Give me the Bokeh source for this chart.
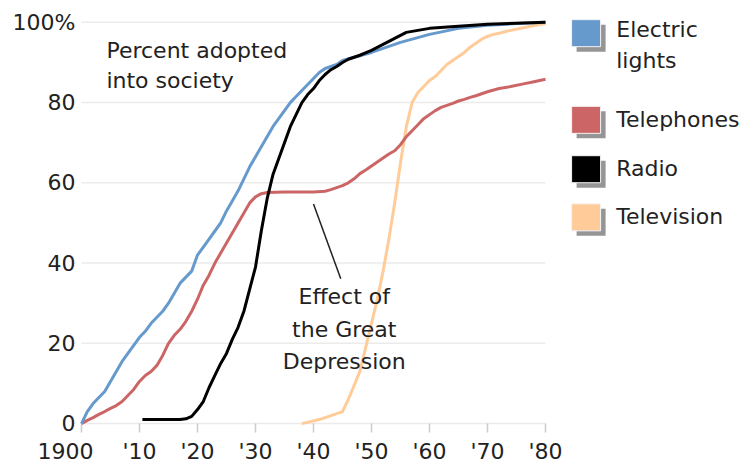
from bokeh.plotting import figure
from bokeh.models import Range1d, FixedTicker, Label
from bokeh.embed import file_html
from bokeh.resources import INLINE

# ---------------- data ----------------
light_years = [1900, 1901, 1902, 1903, 1904, 1905, 1906, 1907, 1908, 1909,
               1910, 1911, 1912, 1913, 1914, 1915, 1916, 1917, 1918, 1919,
               1920, 1921, 1922, 1923, 1924, 1925, 1926, 1927, 1928, 1929,
               1930, 1931, 1932, 1933, 1934, 1935, 1936, 1937, 1938, 1939,
               1940, 1941, 1942, 1943, 1944, 1945, 1950, 1955, 1960, 1965,
               1970, 1975, 1980]
light_pct = [0, 3, 5, 6.5, 8, 10.5, 13, 15.5, 17.5, 19.5,
             21.5, 23, 25, 26.5, 28, 30, 32.5, 35, 36.5, 38,
             42, 44, 46, 48, 50, 53, 55.5, 58, 61, 64,
             66.5, 69, 71.5, 74, 76, 78, 80, 81.5, 83, 84.5,
             86, 87.5, 88.5, 89, 89.5, 90.5, 92.5, 95, 97, 98.5,
             99.3, 99.7, 100]

phone_years = [1900, 1901, 1902, 1903, 1904, 1905, 1906, 1907, 1908, 1909,
               1910, 1911, 1912, 1913, 1914, 1915, 1916, 1917, 1918, 1919,
               1920, 1921, 1922, 1923, 1924, 1925, 1926, 1927, 1928, 1929,
               1930, 1931, 1932, 1935, 1940, 1942, 1943, 1944, 1945, 1946,
               1947, 1948, 1949, 1950, 1951, 1952, 1953, 1954, 1955, 1956,
               1957, 1958, 1959, 1960, 1961, 1962, 1963, 1964, 1965, 1966,
               1967, 1968, 1969, 1970, 1972, 1974, 1976, 1978, 1980]
phone_pct = [0, 0.8, 1.5, 2.3, 3, 3.8, 4.5, 5.5, 7, 8.5,
             10.5, 12, 13, 14.5, 17, 20, 22, 23.5, 25.5, 28,
             31, 34.5, 37, 40, 42.5, 45, 47.5, 50, 52.5, 55,
             56.5, 57.3, 57.6, 57.7, 57.7, 57.9, 58.3, 58.8, 59.3, 60,
             61, 62.3, 63.2, 64.2, 65.2, 66.2, 67.2, 68, 69.5, 71.5,
             73, 74.5, 76, 77, 78, 78.8, 79.3, 79.8, 80.4, 80.8,
             81.3, 81.7, 82.2, 82.7, 83.5, 84, 84.6, 85.2, 85.8]

radio_years = [1910.5, 1912, 1917, 1918, 1919, 1920, 1921, 1922, 1923, 1924,
               1925, 1926, 1927, 1928, 1929, 1930, 1931, 1932, 1933, 1934,
               1935, 1936, 1937, 1938, 1939, 1940, 1941, 1942, 1943, 1944,
               1945, 1946, 1948, 1950, 1952, 1954, 1956, 1958, 1960, 1965,
               1970, 1975, 1980]
radio_pct = [1, 1, 1, 1.2, 1.8, 3.5, 5.5, 9, 12, 15,
             17.5, 21, 24, 28, 33.5, 39, 48, 56, 62, 66,
             70, 74, 77, 80, 82, 83.5, 85.5, 87, 88.2, 89,
             90, 90.8, 91.8, 93, 94.5, 96, 97.5, 98, 98.5, 99,
             99.5, 99.8, 100]

tv_years = [1938, 1941, 1943, 1945, 1946, 1947, 1948, 1949, 1950, 1951,
            1952, 1953, 1954, 1955, 1956, 1957, 1958, 1959, 1960, 1961,
            1962, 1963, 1964, 1965, 1966, 1967, 1968, 1969, 1970, 1971,
            1972, 1974, 1976, 1978, 1980]
tv_pct = [0, 1, 2, 3, 6, 9.5, 13, 19, 25, 31,
          38, 46, 55, 65, 74, 80, 82.5, 84, 85.5, 86.5,
          88, 89.5, 90.5, 91.5, 92.5, 93.8, 94.8, 95.8, 96.5, 97,
          97.3, 98, 98.6, 99.2, 99.7]

series_names = ["Electric lights", "Telephones", "Radio", "Television"]
series_colors = ["#6699CC", "#CC6666", "#000000", "#FFCC99"]

y_ticks = [0, 20, 40, 60, 80, 100]
y_tick_labels = ["0", "20", "40", "60", "80", "100%"]
x_ticks = [1900, 1910, 1920, 1930, 1940, 1950, 1960, 1970, 1980]
x_tick_labels = ["1900", "'10", "'20", "'30", "'40", "'50", "'60", "'70", "'80"]

# annotation pointer (year, percent)
pointer_x = [1940.0, 1944.7]
pointer_y = [54.7, 36.1]

# ---------------- layout ----------------
W, H = 746, 466
FRAME_LEFT = 30              # frame starts left of 1900 so the "1900" label fits
ZERO_X_PX = 81               # pixel column of year 1900
FRAME_BOTTOM = 26
PX_PER_YEAR = 5.8
PX_PER_PCT = 4.04
ZERO_OFFSET_PX = 14          # 0% line sits this far above the frame bottom
TICK_IN_PX, TICK_OUT_PX = 0, 9
FIRST_LABEL_SHIFT_PX = -16   # "1900" sits left of its tick in the reference
Y_LABEL_RIGHT_PX = 75        # right edge of the y tick labels

x_start = x_ticks[0] - (ZERO_X_PX - FRAME_LEFT) / PX_PER_YEAR
x_end = x_start + (W - FRAME_LEFT) / PX_PER_YEAR
y_start = -ZERO_OFFSET_PX / PX_PER_PCT
y_end = y_start + (H - FRAME_BOTTOM) / PX_PER_PCT

FONT = "DejaVu Sans"
FSIZE = "22px"
TCOLOR = "#222222"

p = figure(width=W, height=H, output_backend="svg", toolbar_location=None,
           x_range=Range1d(x_start, x_end), y_range=Range1d(y_start, y_end),
           min_border_left=FRAME_LEFT, min_border_right=0, min_border_top=0,
           min_border_bottom=FRAME_BOTTOM)
p.outline_line_color = None
p.background_fill_color = "white"
p.border_fill_color = "white"
p.xgrid.visible = False
p.ygrid.visible = False

# grid lines limited to the data span
p.segment(x0=[x_ticks[0]] * len(y_ticks), x1=[x_ticks[-1]] * len(y_ticks),
          y0=y_ticks, y1=y_ticks, line_color="#ebebeb", line_width=1.5)

# x tick marks (below the 0% line)
tick_y0 = y_ticks[0] - TICK_IN_PX / PX_PER_PCT
tick_y1 = y_ticks[0] - TICK_OUT_PX / PX_PER_PCT
p.segment(x0=x_ticks, x1=x_ticks, y0=[tick_y0] * len(x_ticks), y1=[tick_y1] * len(x_ticks),
          line_color="#cccccc", line_width=1.5)

# y axis (labels pulled to the right of the frame edge, next to the 1900 column)
p.yaxis.ticker = FixedTicker(ticks=y_ticks)
p.yaxis.major_label_overrides = {t: l for t, l in zip(y_ticks, y_tick_labels)}
p.yaxis.axis_line_color = None
p.yaxis.major_tick_line_color = None
p.yaxis.minor_tick_line_color = None
p.yaxis.major_tick_in = 0
p.yaxis.major_tick_out = 0
p.yaxis.major_label_standoff = -(Y_LABEL_RIGHT_PX - FRAME_LEFT)
p.yaxis.major_label_text_font = FONT
p.yaxis.major_label_text_font_size = FSIZE
p.yaxis.major_label_text_color = TCOLOR

# x axis (labels only; first label nudged left as in the reference)
label_pos = [x_ticks[0] + FIRST_LABEL_SHIFT_PX / PX_PER_YEAR] + x_ticks[1:]
p.xaxis.ticker = FixedTicker(ticks=label_pos)
p.xaxis.major_label_overrides = {t: l for t, l in zip(label_pos, x_tick_labels)}
p.xaxis.axis_line_color = None
p.xaxis.major_tick_line_color = None
p.xaxis.minor_tick_line_color = None
p.xaxis.major_tick_in = 0
p.xaxis.major_tick_out = 0
p.xaxis.major_label_standoff = 1
p.xaxis.major_label_text_font = FONT
p.xaxis.major_label_text_font_size = FSIZE
p.xaxis.major_label_text_color = TCOLOR

# series lines
series = [(light_years, light_pct), (phone_years, phone_pct),
          (radio_years, radio_pct), (tv_years, tv_pct)]
draw_order = [3, 1, 0, 2]
for i in draw_order:
    xs, ys = series[i]
    p.line(xs, ys, line_color=series_colors[i], line_width=3, line_join="round")

# pointer line
p.line(pointer_x, pointer_y, line_color="#222222", line_width=1.5)

def add_text(x, y, txt, align="left"):
    p.add_layout(Label(x=x, y=y, text=txt, text_align=align, text_baseline="middle",
                       text_font=FONT, text_font_size=FSIZE, text_color=TCOLOR))

add_text(1904.3, 93.1, "Percent adopted")
add_text(1904.3, 85.6, "into society")
add_text(1945.3, 31.7, "Effect of", "center")
add_text(1945.3, 23.5, "the Great", "center")
add_text(1945.3, 15.6, "Depression", "center")

# legend
leg_x = 1987.0
leg_text_x = 1992.2
leg_y = [97.3, 75.7, 63.4, 51.4]
leg_lines = [["Electric", "lights"], ["Telephones"], ["Radio"], ["Television"]]
shadow_dx = 5 / PX_PER_YEAR
shadow_dy = 5 / PX_PER_PCT
p.rect(x=[leg_x + shadow_dx] * 4, y=[v - shadow_dy for v in leg_y], width=29, height=27,
       width_units="screen", height_units="screen", fill_color="#959595", line_color=None)
p.rect(x=[leg_x] * 4, y=leg_y, width=29, height=27,
       width_units="screen", height_units="screen", fill_color=series_colors,
       line_color="#f4f4f4", line_width=1)
line_gap = 32 / PX_PER_PCT
for yv, lines in zip(leg_y, leg_lines):
    top = yv + (0.2 if len(lines) == 1 else 1.0)
    for k, t in enumerate(lines):
        add_text(leg_text_x, top - k * line_gap, t)

open("out.html", "w").write(file_html(p, INLINE))
